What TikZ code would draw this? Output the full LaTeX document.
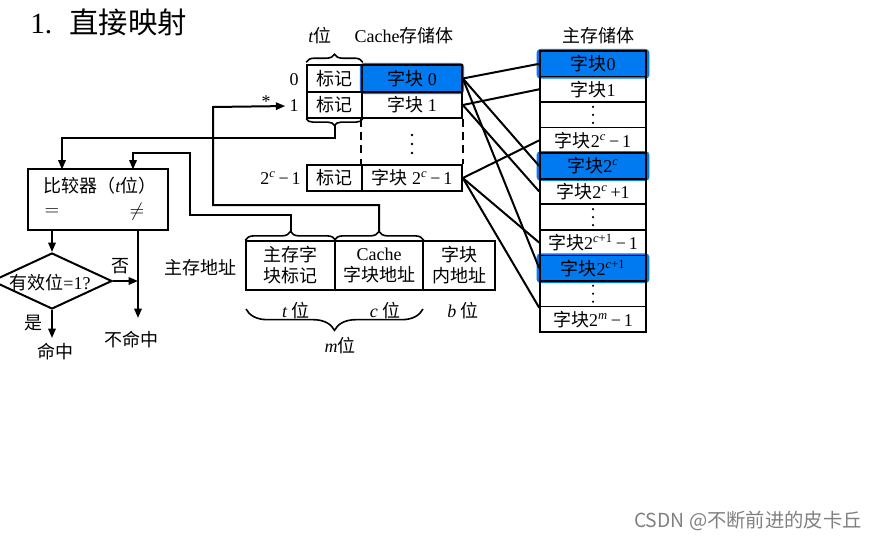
\documentclass[tikz,border=0pt]{standalone}
\usepackage{fontspec}
\setmainfont{Liberation Serif}
\newfontfamily\cjk{Noto Sans CJK SC}
\newcommand\zh[1]{{\cjk #1}}
\newcommand\sps[1]{\textsuperscript{#1}}
\usetikzlibrary{shapes.geometric,arrows.meta,decorations.pathreplacing,backgrounds}
\definecolor{hiblue}{RGB}{0,122,240}
\begin{document}
\begin{tikzpicture}[x=0.75pt,y=-0.75pt,
  every node/.style={font=\fontsize{13.5pt}{15.75pt}\selectfont, inner sep=0pt},
  cell/.style 2 args={draw, line width=1.2pt, minimum width=#1*0.75pt, minimum height=#2*0.75pt, align=center},
  flow/.style={line width=1.5pt},
  arr/.style={flow, -{Triangle[length=7pt,width=5.5pt]}},
  link/.style={line width=1.5pt},
  bracetop/.style={decorate, line width=1.2pt, decoration={brace, amplitude=#1}},
  bracebot/.style={decorate, line width=1.2pt, decoration={brace, mirror, amplitude=#1}},
  dot/.style={fill=black}
]
\useasboundingbox (0,0) rectangle (880,539);

% title
\node[anchor=west, font=\fontsize{22pt}{26pt}\selectfont] (title) at (30,22) {1.\hspace{13pt}\zh{直接映射}};

% ---------- Cache ----------
\node (tl) at (320,36) {\textit{t}\zh{位}};
\node (cl) at (404,36) {Cache\zh{存储体}};

\node[cell={55}{27}] (c0t) at (334.5,78.5) {\zh{标记}};
\node[cell={100}{27}, fill=hiblue] (c0d) at (412,78.5) {\zh{字块} 0};
\node[cell={55}{26}] (c1t) at (334.5,105) {\zh{标记}};
\node[cell={100}{26}] (c1d) at (412,105) {\zh{字块} 1};
\node[cell={55}{26}] (cLt) at (334.5,178) {\zh{标记}};
\node[cell={100}{26}] (cLd) at (412,178) {\zh{字块} 2\sps{\textit{c}}\,−\,1};

\draw[line width=1.2pt, dash pattern=on 6pt off 4pt] (c1d.south west) -- (cLd.north west);
\draw[line width=1.2pt, dash pattern=on 6pt off 4pt] (c1d.south east) -- (cLd.north east);
\foreach \d in {135,144,153} \fill[dot] (412,\d) circle (1pt);

\node (l0) at (294,80) {0};
\node (l1) at (294,106) {1};
\node[anchor=east] (lL) at (301,178) {2\sps{\textit{c}}\,−\,1};
\node (star) at (266,102) {*};

\draw[bracetop=6pt] ([yshift=1.5pt]c0t.north west) -- ([yshift=1.5pt]c0t.north east);
\draw[bracebot=5pt] (c1t.south west) -- (c1t.south east);
\coordinate (tb) at (334.5,125);

% ---------- Main memory ----------
\node (ml) at (598,36) {\zh{主存储体}};
\node[cell={106}{25.55}, fill=hiblue] (m0) at (593,63.8) {\zh{字块}0};
\node[cell={106}{25.55}] (m1) at (593,89.3) {\zh{字块}1};
\node[cell={106}{25.55}] (m2) at (593,114.9) {};
\node[cell={106}{25.55}] (m3) at (593,140.4) {\zh{字块}2\sps{\textit{c}}\,−\,1};
\node[cell={106}{25.55}, fill=hiblue] (m4) at (593,166.0) {\zh{字块}2\sps{\textit{c}}};
\node[cell={106}{25.55}] (m5) at (593,191.5) {\zh{字块}2\sps{\textit{c}}\,+1};
\node[cell={106}{25.55}] (m6) at (593,217.1) {};
\node[cell={106}{25.55}] (m7) at (593,242.6) {\zh{字块}2\sps{\textit{c}+1}\,−\,1};
\node[cell={106}{25.55}, fill=hiblue] (m8) at (593,268.2) {\zh{字块}2\sps{\textit{c}+1}};
\node[cell={106}{25.55}] (m9) at (593,293.7) {};
\node[cell={106}{25.55}] (m10) at (593,319.3) {\zh{字块}2\sps{\textit{m}}\,−\,1};
\foreach \m in {m2,m6,m9}
  \foreach \d in {-8,0,8} \fill[dot] (\m.center) ++(0,\d) circle (0.9pt);

\begin{pgfonlayer}{background}
  \foreach \m in {m0,m4,m8}
    \fill[hiblue, rounded corners=3pt] ([xshift=-2pt,yshift=1pt]\m.north west) rectangle ([xshift=2pt,yshift=-1pt]\m.south east);
  \fill[hiblue, rounded corners=3pt] ([xshift=-1pt,yshift=1pt]c0d.north west) rectangle ([xshift=1pt,yshift=-1pt]c0d.south east);
\end{pgfonlayer}

% cache -> memory
\draw[link] (c0d.east) -- (m0.west);
\draw[link] (c0d.east) -- (m4.west);
\draw[link] (c0d.east) -- (m8.west);
\draw[link] (c1d.east) -- (m1.west);
\draw[link] (c1d.east) -- (m5.west);
\draw[link] (cLd.east) -- (m3.west);
\draw[link] (cLd.east) -- (m7.west);
\draw[link] (cLd.east) -- ([yshift=-1.5pt]m10.north west);

% ---------- Address ----------
\node (addr) at (200,268) {\zh{主存地址}};
\node[cell={89}{49}] (a1) at (290.5,265.5) {\zh{主存字}\\\zh{块标记}};
\node[cell={88}{49}] (a2) at (379,265.5) {Cache\\\zh{字块地址}};
\node[cell={72}{49}] (a3) at (459,265.5) {\zh{字块}\\\zh{内地址}};
\draw[bracetop=6.5pt] (a1.north west) -- (a1.north east);
\draw[bracetop=6.5pt] (a2.north west) -- (a2.north east);
\coordinate (bt1) at (290.5,232);
\coordinate (bt2) at (379,232);
\draw[bracebot=16pt] (246,309) -- (423,309);
\node (tw) at (296,311) {\textit{t} \zh{位}};
\node (cw) at (385,311) {\textit{c} \zh{位}};
\node (bw) at (463,311) {\textit{b} \zh{位}};
\node (mw) at (340,346) {\textit{m}\zh{位}};

% ---------- Comparator ----------
\node[draw, line width=1.5pt, minimum width=140*0.75pt, minimum height=61*0.75pt] (cmp) at (98,199.5) {};
\node (cmpt) at (100,186) {\zh{比较器（}\textit{t}\zh{位）}};
\node (eq) at (52,212) {$=$};
\node (ne) at (137,212) {$\neq$};
\coordinate (cin1) at (62,169.5);
\coordinate (cin2) at (133,169.5);

\draw[arr] (tb) -- (334.5,138) -| (cin1);
\draw[arr] (bt1) -- (290.5,215) -- (190,215) -- (190,153) -- (133,153) -- (cin2);
\draw[arr, shorten >=3pt] (bt2) -- (379,205) -- (213,205) -- (213,107) -- (l1.west);

% ---------- Valid-bit diamond ----------
\node[diamond, draw, line width=1.5pt, minimum width=120*0.75pt, minimum height=56*0.75pt] (dia) at (52,281) {};
\node (diat) at (50,283) {\zh{有效位}=1?};
\coordinate (nmiss) at (138,318);
\coordinate (hit) at (52,338);
\draw[arr] (cmp.south -| dia.north) -- (dia.north);
\draw[flow] (cmp.south -| nmiss) -- (dia.east -| nmiss);
\draw[arr] (dia.east -| nmiss) -- (nmiss);
\draw[arr] (dia.east) -- (dia.east -| nmiss);
\draw[arr] (dia.south) -- (hit);
\node (no) at (120,266) {\zh{否}};
\node (yes) at (33,323) {\zh{是}};
\node (hitl) at (55,352) {\zh{命中}};
\node (missl) at (131,340) {\zh{不命中}};

% watermark
\node[font=\cjk\fontsize{14.5pt}{16pt}\selectfont, text=gray] (wm) at (748,521) {CSDN @不断前进的皮卡丘};
\end{tikzpicture}
\end{document}
